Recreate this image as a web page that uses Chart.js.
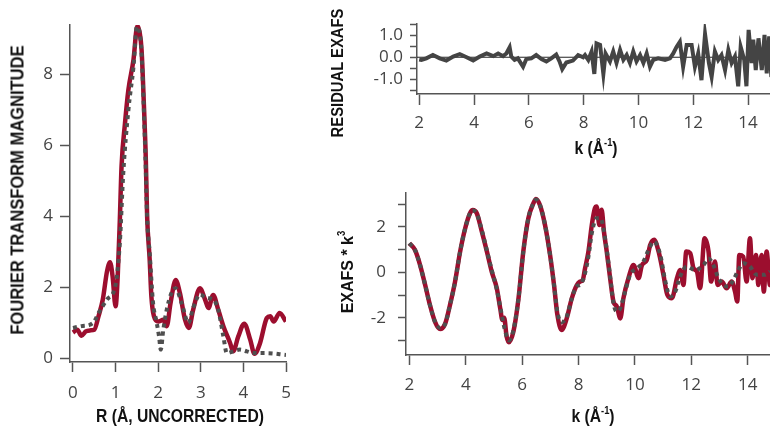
<!DOCTYPE html>
<html>
<head>
<meta charset="utf-8">
<script src="https://cdn.jsdelivr.net/npm/chart.js@4.4.1/dist/chart.umd.min.js"></script>
<style>
  body { margin: 0; background: #fff; }
  #wrap { position: relative; width: 770px; height: 426px; overflow: hidden; background: #fff; }
  canvas { position: absolute; }
  .ttl { position: absolute; white-space: nowrap; font-family: "Liberation Sans", Arial, sans-serif;
         font-weight: bold; color: #111; line-height: 1; }
  .ttl sup { font-size: 0.6em; vertical-align: 0.7em; line-height: 0; }
  .hz { transform: translate(-50%, -50%) scaleX(0.87); }
  .rot { transform: translate(-50%, -50%) rotate(-90deg) scaleX(0.87); }
  .rot2 { transform: translate(-50%, -50%) rotate(-90deg) scaleX(0.94); }
</style>
</head>
<body>
<div id="wrap">
  <canvas id="ftChart" width="300" height="426" style="left:0;top:0"></canvas>
  <canvas id="resChart" width="450" height="170" style="left:320px;top:0"></canvas>
  <canvas id="chiChart" width="450" height="256" style="left:320px;top:170px"></canvas>

  <div class="ttl rot" style="left:17px;top:190px;font-size:19px">FOURIER TRANSFORM MAGNITUDE</div>
  <div class="ttl hz" style="left:180px;top:416px;font-size:18px">R (Å, UNCORRECTED)</div>
  <div class="ttl rot" style="left:337px;top:73px;font-size:17px">RESIDUAL EXAFS</div>
  <div class="ttl hz" style="left:596px;top:148px;font-size:18px">k (Å<sup>-1</sup>)</div>
  <div class="ttl rot2" style="left:347px;top:272px;font-size:17px">EXAFS * k<sup>3</sup></div>
  <div class="ttl hz" style="left:593px;top:416px;font-size:18px">k (Å<sup>-1</sup>)</div>
</div>

<script>
// Fourier transform magnitude, data (red) and fit (grey dots)
const ftR = [0, 0.1, 0.2, 0.3, 0.4, 0.5, 0.6, 0.7, 0.8, 0.87, 0.93, 1.0, 1.05, 1.1, 1.14, 1.22, 1.3, 1.42, 1.51, 1.56,
  1.61, 1.66, 1.71, 1.74, 1.8, 1.84, 1.9, 2.0, 2.12, 2.2, 2.29, 2.41, 2.51, 2.63, 2.72, 2.82, 2.98, 3.1, 3.18, 3.29,
  3.41, 3.53, 3.69, 3.76, 3.88, 4.02, 4.16, 4.26, 4.39, 4.55, 4.63, 4.71, 4.85, 5.0];
const ftMag = [0.72, 0.8, 0.63, 0.75, 0.78, 0.8, 1.18, 1.65, 2.45, 2.7, 2.3, 1.46, 2.3, 3.9, 5.4, 6.6, 7.55, 8.4, 9.35, 9.2,
  8.68, 7.27, 5.58, 4.0, 2.78, 1.74, 1.18, 1.03, 1.08, 0.9, 1.55, 2.2, 1.83, 1.08, 0.85, 1.36, 1.97, 1.65, 1.41, 1.78,
  1.36, 0.9, 0.42, 0.19, 0.61, 0.97, 0.52, 0.12, 0.42, 1.13, 1.18, 1.03, 1.27, 1.03];
const fitR = [0, 0.2, 0.4, 0.5, 0.6, 0.8, 1.0, 1.1, 1.18, 1.3, 1.42, 1.5, 1.56, 1.61, 1.7, 1.74, 1.8, 1.88, 1.96, 2.02,
  2.06, 2.12, 2.2, 2.31, 2.41, 2.55, 2.71, 2.82, 2.98, 3.14, 3.29, 3.41, 3.53, 3.61, 3.76, 3.92, 4.08, 4.24, 4.55, 5.0];
const fitMag = [0.85, 0.9, 0.94, 1.03, 1.27, 1.65, 2.07, 3.25, 5.2, 6.98, 8.2, 9.33, 9.2, 8.58, 5.67, 3.98, 2.96, 1.55, 1.03, 0.61,
  0.24, 0.8, 1.36, 1.83, 1.97, 1.55, 0.99, 1.41, 1.79, 1.69, 1.65, 1.36, 0.61, 0.14, 0.19, 0.24, 0.19, 0.14, 0.14, 0.09];

// residual EXAFS
const resK = [2.0, 2.08, 2.26, 2.5, 2.75, 2.99, 3.24, 3.48, 3.73, 3.97, 4.21, 4.46, 4.7, 4.88, 5.06, 5.18, 5.3, 5.36, 5.48, 5.6,
  5.79, 5.91, 6.09, 6.27, 6.46, 6.64, 6.82, 7.0, 7.12, 7.22, 7.37, 7.61, 7.8, 7.98, 8.05, 8.17, 8.29, 8.39, 8.47, 8.6,
  8.72, 8.8, 8.96, 9.08, 9.2, 9.33, 9.45, 9.57, 9.69, 9.81, 9.93, 10.06, 10.18, 10.3, 10.42, 10.54, 10.72, 10.97, 11.15, 11.27,
  11.39, 11.51, 11.63, 11.76, 11.94, 12.06, 12.18, 12.3, 12.43, 12.57, 12.67, 12.79, 12.91, 13.03, 13.16, 13.28, 13.4, 13.52, 13.64, 13.73,
  13.86, 13.94, 14.02, 14.13, 14.19, 14.28, 14.38, 14.5, 14.6, 14.68, 14.77, 14.85];
const resVal = [-0.1, -0.12, -0.05, 0.1, -0.05, -0.15, 0.03, 0.14, 0, -0.15, 0.03, 0.17, 0.05, 0.17, 0.05, 0.17, 0.45, 0.03, -0.12, -0.05,
  -0.43, -0.08, -0.05, 0.1, -0.08, -0.19, -0.05, 0.12, -0.19, -0.54, -0.24, -0.15, 0.1, 0, 0.1, -0.12, 0.26, -0.76, 0.63, 0.56,
  -0.76, 0.17, -0.19, 0.26, -0.26, 0.33, -0.12, 0.1, -0.26, 0.26, -0.19, 0.1, -0.26, 0.17, -0.43, -0.12, -0.05, -0.12, -0.05, 0.17,
  0.47, 0.7, -0.43, 0.56, 0.56, -0.43, 0.17, -1.04, 1.05, -0.26, -0.89, 0.26, -0.12, 0.1, -0.58, 0.33, -0.26, 0.03, -1.32, 0.47,
  -0.12, -1.32, 1.24, -0.26, 0.8, -0.58, 0.86, -0.58, 1.02, -0.73, 0.95, -0.9];

// EXAFS * k^3, data (red) and fit (grey dots)
const chiK = [2.0, 2.2, 2.38, 2.56, 2.73, 2.91, 3.09, 3.27, 3.44, 3.62, 3.8, 3.98, 4.15, 4.25, 4.39, 4.57, 4.75, 4.92, 5.1, 5.22,
  5.3, 5.36, 5.45, 5.53, 5.69, 5.87, 6.04, 6.22, 6.4, 6.49, 6.63, 6.81, 6.99, 7.13, 7.25, 7.4, 7.58, 7.76, 7.94, 8.05,
  8.15, 8.23, 8.35, 8.47, 8.58, 8.64, 8.74, 8.82, 8.9, 9.0, 9.12, 9.24, 9.36, 9.48, 9.59, 9.77, 9.95, 10.13, 10.25, 10.42,
  10.54, 10.68, 10.84, 11.01, 11.15, 11.31, 11.49, 11.6, 11.72, 11.82, 11.96, 12.08, 12.2, 12.31, 12.47, 12.61, 12.7, 12.84, 12.93, 13.08,
  13.25, 13.43, 13.55, 13.63, 13.7, 13.84, 13.96, 14.08, 14.17, 14.29, 14.38, 14.49, 14.57, 14.67, 14.79, 14.9];
const chiVal = [1.28, 0.98, 0.32, -0.56, -1.44, -2.18, -2.5, -2.26, -1.44, -0.41, 0.91, 1.94, 2.6, 2.74, 2.6, 1.79, 0.91, 0.03, -0.7, -1.58,
  -2.1, -2.0, -2.83, -3.08, -2.61, -1.15, 0.91, 2.38, 3.04, 3.23, 2.96, 2.08, 0.76, -0.56, -1.88, -2.54, -2.03, -1.15, -0.56, -0.41,
  -0.34, 0.17, 0.91, 2.08, 2.82, 2.9, 2.08, 2.75, 1.79, 0.91, -0.26, -1.3, -1.51, -2.03, -1.15, -0.26, 0.32, -0.26, 0.32, 0.54,
  1.2, 1.43, 0.91, -0.11, -0.99, -1.14, -0.26, 0.1, -0.56, 0.91, 0.84, 0.17, 0.03, -0.7, 1.5, 0.91, -0.41, 0.47, -0.56, -0.41,
  -0.7, -0.41, -0.85, -1.29, 0.76, 0.69, -0.41, 1.5, -0.26, 0.76, -0.56, 0.76, -0.85, 0.91, -0.56, 0.8];
const chiFitK = [2.0, 2.2, 2.38, 2.56, 2.73, 2.91, 3.09, 3.27, 3.44, 3.62, 3.8, 3.98, 4.15, 4.25, 4.39, 4.57, 4.75, 4.92, 5.1, 5.25,
  5.4, 5.53, 5.69, 5.87, 6.04, 6.22, 6.4, 6.49, 6.63, 6.81, 6.99, 7.13, 7.25, 7.4, 7.58, 7.76, 7.94, 8.05, 8.23, 8.35,
  8.47, 8.64, 8.78, 8.94, 9.1, 9.24, 9.36, 9.48, 9.65, 9.83, 10.07, 10.3, 10.48, 10.68, 10.9, 11.08, 11.25, 11.43, 11.6, 11.84,
  12.14, 12.43, 12.61, 12.78, 12.96, 13.14, 13.31, 13.49, 13.67, 13.84, 14.08, 14.32, 14.61, 14.79, 14.9];
const chiFitVal = [1.28, 0.98, 0.32, -0.56, -1.44, -2.18, -2.45, -2.26, -1.44, -0.41, 0.91, 1.94, 2.6, 2.72, 2.58, 1.85, 0.95, 0.1, -0.75, -1.7,
  -2.6, -3.0, -2.55, -1.15, 0.91, 2.38, 3.04, 3.2, 2.96, 2.1, 0.76, -0.56, -1.75, -2.2, -1.95, -1.15, -0.6, -0.56, -0.04, 0.69,
  1.72, 2.38, 2.38, 1.5, 0.03, -1.37, -1.73, -1.58, -0.85, -0.11, 0.17, 0.47, 0.98, 1.35, 0.76, -0.41, -1.07, -0.85, -0.19, 0.25,
  0.1, 0.32, 0.61, 0.32, -0.26, -0.56, -0.63, -0.34, 0.1, 0.4, 0.25, -0.11, -0.11, 0.03, 0.1];

// tick labels
const ftXTicks = [0, 1, 2, 3, 4, 5];
const ftYTicks = [0, 2, 4, 6, 8];
const kTicks = [2, 4, 6, 8, 10, 12, 14];
const resYTicks = [-1.5, -1, -0.5, 0, 0.5, 1, 1.5];
const resYLabels = [-1, 0, 1];
const chiYTicks = [-3, -2, -1, 0, 1, 2, 3];
const chiYLabels = [-2, 0, 2];

const RED = '#9c0e2e';
const GREY = '#4f4f4f';
const AXIS = '#555555';

Chart.defaults.font.family = '"Open Sans", "DejaVu Sans", sans-serif';
Chart.defaults.font.size = 17;
Chart.defaults.color = '#444';

const pts = (xs, ys) => xs.map((x, i) => ({ x: x, y: ys[i] }));

function axis(min, max, ticks, tickLen, pad, size, horiz, labelFn) {
  return {
    type: 'linear',
    min: min,
    max: max,
    border: { display: true, color: AXIS, width: 1.5 },
    grid: { drawOnChartArea: false, drawTicks: true, tickLength: tickLen, tickColor: AXIS, tickWidth: 1.5 },
    ticks: { padding: pad, maxRotation: 0, autoSkip: false, callback: labelFn || (v => String(v)) },
    afterBuildTicks: s => { s.ticks = ticks.map(v => ({ value: v })); },
    afterFit: s => {
      if (horiz) { s.height = size; s.paddingLeft = 0; s.paddingRight = 0; }
      else { s.width = size; s.paddingTop = 0; s.paddingBottom = 0; }
    }
  };
}

// order 0 = drawn on top
function lineSet(data, color, width, dash, order, smooth) {
  return {
    data: data,
    order: order,
    borderColor: color,
    borderWidth: width,
    borderDash: dash || [],
    borderCapStyle: 'butt',
    pointRadius: 0,
    fill: false,
    cubicInterpolationMode: smooth ? 'monotone' : 'default',
    tension: 0
  };
}

const common = {
  responsive: false,
  animation: false,
  devicePixelRatio: 1,
  plugins: { legend: { display: false }, tooltip: { enabled: false } }
};

new Chart(document.getElementById('ftChart'), {
  type: 'line',
  data: {
    datasets: [
      lineSet(pts(ftR, ftMag), RED, 4.5, null, 1, true),
      lineSet(pts(fitR, fitMag), GREY, 4, [4, 4], 0, true)
    ]
  },
  options: Object.assign({}, common, {
    layout: { padding: { top: 25, right: 14, left: 0, bottom: 0 } },
    scales: {
      x: axis(-0.07, 5.0, ftXTicks, 10, 11, 64, true),
      y: axis(-0.11, 9.38, ftYTicks, 10, 7, 70, false)
    }
  })
});

new Chart(document.getElementById('resChart'), {
  type: 'line',
  data: {
    datasets: [lineSet(pts(resK, resVal), '#444444', 4, null, 0, false)]
  },
  options: Object.assign({}, common, {
    layout: { padding: { top: 24, right: 0, left: 0, bottom: 0 } },
    scales: {
      x: axis(1.92, 14.8, kTicks, 11, 8, 76, true),
      y: axis(-1.67, 1.51, resYTicks, 7, 7, 97, false,
          v => resYLabels.includes(v) ? v.toFixed(1) : '')
    }
  }),
  plugins: [{
    id: 'zeroLine',
    beforeDatasetsDraw(chart) {
      const { ctx, chartArea, scales } = chart;
      const y0 = scales.y.getPixelForValue(0);
      ctx.save();
      ctx.strokeStyle = '#222';
      ctx.lineWidth = 1;
      ctx.beginPath();
      ctx.moveTo(chartArea.left, y0);
      ctx.lineTo(chartArea.right, y0);
      ctx.stroke();
      ctx.restore();
    }
  }]
});

new Chart(document.getElementById('chiChart'), {
  type: 'line',
  data: {
    datasets: [
      lineSet(pts(chiK, chiVal), RED, 4.5, null, 1, true),
      lineSet(pts(chiFitK, chiFitVal), GREY, 4, [4, 4], 0, true)
    ]
  },
  options: Object.assign({}, common, {
    layout: { padding: { top: 23, right: 0, left: 0, bottom: 0 } },
    scales: {
      x: axis(1.88, 14.79, kTicks, 10, 10, 71, true),
      y: axis(-3.64, 3.49, chiYTicks, 8, 12, 86, false,
          v => chiYLabels.includes(v) ? String(v) : '')
    }
  })
});
</script>
</body>
</html>
